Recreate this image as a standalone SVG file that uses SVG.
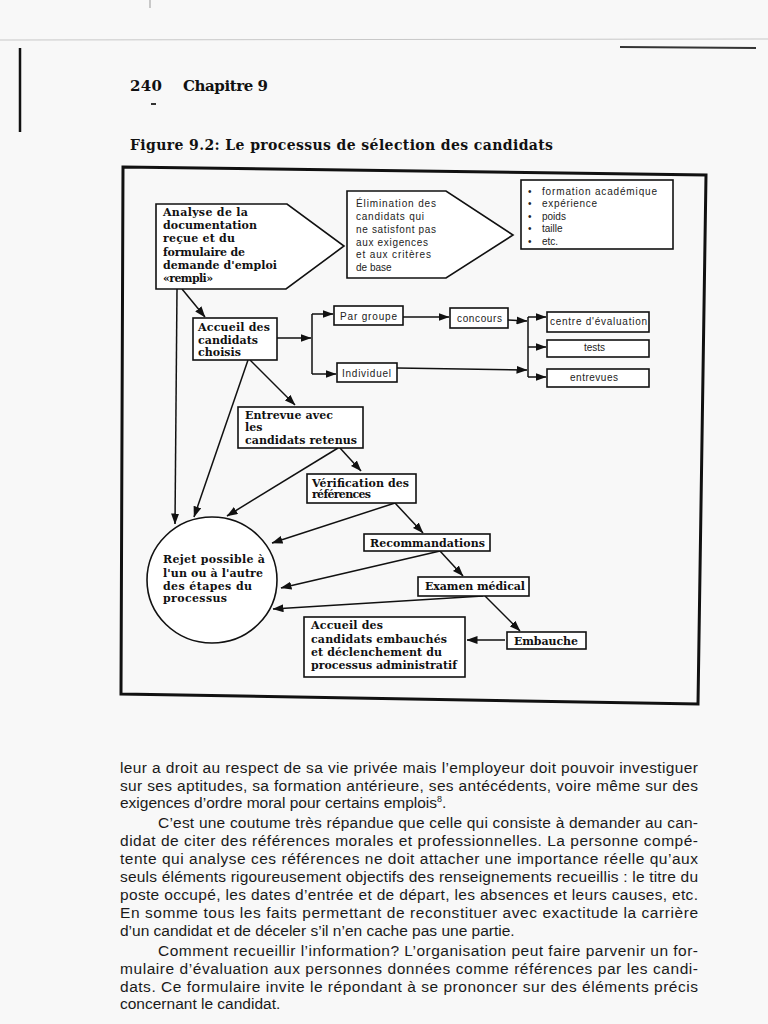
<svg xmlns="http://www.w3.org/2000/svg" width="768" height="1024" viewBox="0 0 768 1024">
<defs>
<marker id="ah" markerWidth="11" markerHeight="8" refX="10.5" refY="4" orient="auto" markerUnits="userSpaceOnUse"><path d="M0,0 L11,4 L0,8 z" fill="#111"/></marker>
<style>
.bx{fill:#fff;stroke:#111;stroke-width:1.6}
.bt{font-family:"DejaVu Serif","Liberation Serif",serif;font-weight:bold;font-size:11px;fill:#111}
.st{font-family:"Liberation Sans",Arial,sans-serif;font-size:10px;fill:#222}
.cn{fill:none;stroke:#111;stroke-width:1.5}
.body{font-family:"Liberation Sans",Arial,sans-serif;font-size:15.5px;fill:#1a1a1a}
.hd{font-family:"DejaVu Serif","Liberation Serif",serif;font-weight:bold;fill:#111}
</style>
</defs>
<rect x="0" y="0" width="768" height="1024" fill="#f8f8f8"/>
<line x1="0" y1="40" x2="768" y2="39" stroke="#c8c8c8" stroke-width="1"/>
<line x1="620" y1="47" x2="756" y2="48" stroke="#333" stroke-width="2"/>
<line x1="20" y1="48" x2="20" y2="132" stroke="#111" stroke-width="2.5"/>
<line x1="150" y1="0" x2="150" y2="8" stroke="#999" stroke-width="1"/>

<text class="hd" x="130" y="91" font-size="15" textLength="32">240</text>
<text class="hd" x="183" y="91" font-size="15" textLength="85">Chapitre 9</text>
<rect x="151" y="103" width="5" height="2" fill="#333"/>
<text class="hd" x="130" y="150" font-size="14" textLength="423">Figure 9.2: Le processus de sélection des candidats</text>

<polygon points="123,167 706,175 698,704 121,694" fill="none" stroke="#111" stroke-width="3"/>

<g id="connectors">
<path class="cn" d="M182,289 L205,317" marker-end="url(#ah)"/>
<path class="cn" d="M177,289 L175,524" marker-end="url(#ah)"/>
<path class="cn" d="M277,338 L311,338" marker-end="url(#ah)"/>
<path class="cn" d="M312,314 L312,374"/>
<path class="cn" d="M312,314 L333,314" marker-end="url(#ah)"/>
<path class="cn" d="M312,374 L336,374" marker-end="url(#ah)"/>
<path class="cn" d="M403,317 L449,317" marker-end="url(#ah)"/>
<path class="cn" d="M508,320 L527,321" marker-end="url(#ah)"/>
<path class="cn" d="M397,368 L527,370" marker-end="url(#ah)"/>
<path class="cn" d="M528,317 L528,377"/>
<path class="cn" d="M528,317 L546,317" marker-end="url(#ah)"/>
<path class="cn" d="M528,347 L546,347" marker-end="url(#ah)"/>
<path class="cn" d="M528,377 L546,377" marker-end="url(#ah)"/>
<path class="cn" d="M250,360 L295,405" marker-end="url(#ah)"/>
<path class="cn" d="M248,360 L194,517" marker-end="url(#ah)"/>
<path class="cn" d="M340,448 L361,471" marker-end="url(#ah)"/>
<path class="cn" d="M338,448 L227,516" marker-end="url(#ah)"/>
<path class="cn" d="M395,503 L423,533" marker-end="url(#ah)"/>
<path class="cn" d="M395,503 L272,543" marker-end="url(#ah)"/>
<path class="cn" d="M440,551 L463,576" marker-end="url(#ah)"/>
<path class="cn" d="M440,551 L281,588" marker-end="url(#ah)"/>
<path class="cn" d="M485,596 L520,631" marker-end="url(#ah)"/>
<path class="cn" d="M483,596 L273,609" marker-end="url(#ah)"/>
<path class="cn" d="M505,640 L467,640" marker-end="url(#ah)"/>
</g>

<g id="analyse">
<polygon class="bx" points="156,204 287,204 344,246 286,289 156,289"/>
<text class="bt" x="163" y="216" textLength="85">Analyse de la</text>
<text class="bt" x="163" y="229" textLength="94">documentation</text>
<text class="bt" x="163" y="242" textLength="72">reçue et du</text>
<text class="bt" x="163" y="256" textLength="82">formulaire de</text>
<text class="bt" x="163" y="269" textLength="114">demande d'emploi</text>
<text class="bt" x="163" y="282" textLength="50">«rempli»</text>
</g>

<g id="elimination">
<polygon class="bx" points="347,191 446,191 513,235 446,278 347,278"/>
<text class="st" x="356" y="207" textLength="80">Élimination des</text>
<text class="st" x="356" y="220" textLength="68">candidats qui</text>
<text class="st" x="356" y="233" textLength="80">ne satisfont pas</text>
<text class="st" x="356" y="246" textLength="72">aux exigences</text>
<text class="st" x="356" y="258" textLength="75">et aux critères</text>
<text class="st" x="356" y="271">de base</text>
</g>

<g id="criteres">
<rect class="bx" x="521" y="180" width="152" height="69"/>
<g class="st">
<text x="528" y="195">•</text><text x="542" y="195" textLength="115">formation académique</text>
<text x="528" y="207">•</text><text x="542" y="207" textLength="55">expérience</text>
<text x="528" y="220">•</text><text x="542" y="220">poids</text>
<text x="528" y="232">•</text><text x="542" y="232">taille</text>
<text x="528" y="245">•</text><text x="542" y="245">etc.</text>
</g>
</g>

<g id="accueil-choisis">
<rect class="bx" x="193" y="318" width="84" height="42"/>
<text class="bt" x="198" y="331" textLength="72">Accueil des</text>
<text class="bt" x="198" y="344" textLength="60">candidats</text>
<text class="bt" x="198" y="356" textLength="43">choisis</text>
</g>

<g id="par-groupe">
<rect class="bx" x="334" y="306" width="69" height="19"/>
<text class="st" x="340" y="320" textLength="57">Par groupe</text>
</g>
<g id="individuel">
<rect class="bx" x="337" y="363" width="60" height="19"/>
<text class="st" x="342" y="377" textLength="49">Individuel</text>
</g>
<g id="concours">
<rect class="bx" x="450" y="308" width="58" height="20"/>
<text class="st" x="457" y="322" textLength="45">concours</text>
</g>
<g id="centre-evaluation">
<rect class="bx" x="547" y="312" width="102" height="20"/>
<text class="st" x="550" y="325" textLength="97">centre d'évaluation</text>
</g>
<g id="tests">
<rect class="bx" x="547" y="340" width="102" height="17"/>
<text class="st" x="584" y="351">tests</text>
</g>
<g id="entrevues">
<rect class="bx" x="547" y="369" width="102" height="18"/>
<text class="st" x="570" y="381" textLength="48">entrevues</text>
</g>

<g id="entrevue">
<rect class="bx" x="238" y="407" width="125" height="41"/>
<text class="bt" x="245" y="419" textLength="88">Entrevue avec</text>
<text class="bt" x="245" y="431">les</text>
<text class="bt" x="245" y="444" textLength="112">candidats retenus</text>
</g>

<g id="verification">
<rect class="bx" x="307" y="474" width="109" height="29"/>
<text class="bt" x="312" y="487" textLength="97">Vérification des</text>
<text class="bt" x="312" y="498" textLength="59">références</text>
</g>

<g id="recommandations">
<rect class="bx" x="364" y="534" width="126" height="17"/>
<text class="bt" x="370" y="547" textLength="115">Recommandations</text>
</g>

<g id="examen">
<rect class="bx" x="418" y="577" width="111" height="19"/>
<text class="bt" x="425" y="590" textLength="100">Examen médical</text>
</g>

<g id="embauche">
<rect class="bx" x="507" y="632" width="79" height="17"/>
<text class="bt" x="514" y="645" textLength="64">Embauche</text>
</g>

<g id="accueil-embauches">
<rect class="bx" x="304" y="617" width="161" height="60"/>
<text class="bt" x="311" y="629" textLength="72">Accueil des</text>
<text class="bt" x="311" y="643" textLength="136">candidats embauchés</text>
<text class="bt" x="311" y="656" textLength="131">et déclenchement du</text>
<text class="bt" x="311" y="669" textLength="146">processus administratif</text>
</g>

<g id="rejet">
<ellipse class="bx" cx="212" cy="580" rx="65" ry="63"/>
<text class="bt" x="163" y="563" textLength="102">Rejet possible à</text>
<text class="bt" x="163" y="577" textLength="100">l'un ou à l'autre</text>
<text class="bt" x="163" y="590" textLength="89">des étapes du</text>
<text class="bt" x="163" y="602" textLength="64">processus</text>
</g>

<g class="body">
<text x="120" y="773" textLength="578">leur a droit au respect de sa vie privée mais l’employeur doit pouvoir investiguer</text>
<text x="120" y="791" textLength="578">sur ses aptitudes, sa formation antérieure, ses antécédents, voire même sur des</text>
<text x="120" y="808">exigences d’ordre moral pour certains emplois<tspan font-size="9" dy="-6">8</tspan><tspan dy="6">.</tspan></text>
<text x="158" y="828" textLength="540">C’est une coutume très répandue que celle qui consiste à demander au can-</text>
<text x="120" y="846" textLength="578">didat de citer des références morales et professionnelles. La personne compé-</text>
<text x="120" y="864" textLength="578">tente qui analyse ces références ne doit attacher une importance réelle qu’aux</text>
<text x="120" y="882" textLength="578">seuls éléments rigoureusement objectifs des renseignements recueillis : le titre du</text>
<text x="120" y="900" textLength="578">poste occupé, les dates d’entrée et de départ, les absences et leurs causes, etc.</text>
<text x="120" y="918" textLength="578">En somme tous les faits permettant de reconstituer avec exactitude la carrière</text>
<text x="120" y="936">d’un candidat et de déceler s’il n’en cache pas une partie.</text>
<text x="158" y="956" textLength="540">Comment recueillir l’information? L’organisation peut faire parvenir un for-</text>
<text x="120" y="974" textLength="578">mulaire d’évaluation aux personnes données comme références par les candi-</text>
<text x="120" y="992" textLength="578">dats. Ce formulaire invite le répondant à se prononcer sur des éléments précis</text>
<text x="120" y="1009">concernant le candidat.</text>
</g>
</svg>
